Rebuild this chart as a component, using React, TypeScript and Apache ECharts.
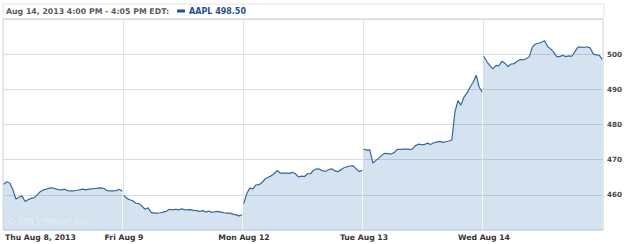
import React, { useEffect, useRef } from "react";
import * as echarts from "echarts";

const headerText = "Aug 14, 2013 4:00 PM - 4:05 PM EDT:";
const ticker = "AAPL";
const dayLabels = ["Thu Aug 8, 2013", "Fri Aug 9", "Mon Aug 12", "Tue Aug 13", "Wed Aug 14"];
const yTicks = [450, 510, 10];

// ~10-minute samples per trading day
const thu = [463.0, 463.7, 463.3, 461.5, 458.8, 459.3, 459.7, 458.1, 458.6, 459.0,
  459.2, 460.0, 460.9, 461.4, 461.6, 461.9, 462.0, 461.7, 461.5, 461.4,
  461.6, 461.2, 461.1, 461.1, 461.3, 461.4, 461.6, 461.4, 461.6, 461.7,
  461.8, 461.9, 462.0, 461.8, 461.2, 461.1, 461.1, 461.2, 461.6, 461.0];
const fri = [459.9, 459.0, 458.6, 458.3, 457.6, 457.5, 456.8, 455.9, 456.3, 455.0,
  454.8, 454.8, 454.9, 455.1, 455.3, 455.9, 455.7, 455.9, 455.7, 456.0,
  455.8, 455.7, 455.8, 455.6, 455.5, 455.3, 455.5, 455.1, 455.4, 455.0,
  455.2, 455.3, 455.1, 454.9, 454.8, 454.8, 454.5, 454.3, 454.0, 454.4];
const mon = [457.5, 460.4, 461.9, 461.7, 462.8, 462.9, 463.5, 464.5, 465.0, 465.4,
  466.0, 466.9, 466.2, 466.2, 466.2, 466.1, 466.4, 466.0, 465.1, 465.3,
  465.2, 466.0, 466.0, 467.0, 467.4, 467.3, 466.8, 466.7, 467.2, 467.4,
  466.8, 466.6, 467.1, 467.7, 468.0, 468.2, 468.3, 467.4, 466.6, 467.0];
const tue = [473.0, 472.7, 472.8, 469.0, 469.8, 470.5, 471.3, 471.8, 471.7, 471.6,
  472.0, 472.9, 472.9, 473.0, 473.0, 472.9, 473.0, 474.0, 474.4, 474.3,
  474.3, 474.7, 474.3, 474.8, 475.0, 475.2, 474.9, 475.1, 475.3, 475.6,
  483.5, 486.8, 485.5, 487.8, 489.0, 490.6, 492.0, 494.0, 490.6, 489.3];
const wed = [499.4, 497.9, 496.8, 495.8, 496.8, 496.7, 498.0, 497.4, 496.5, 497.2,
  497.3, 498.0, 498.5, 498.4, 498.7, 499.3, 502.0, 502.9, 503.1, 503.4,
  503.8, 502.2, 501.5, 500.6, 499.3, 499.3, 499.7, 499.3, 499.5, 499.4,
  500.7, 502.0, 502.0, 501.9, 502.1, 501.8, 500.1, 499.8, 499.7, 498.5];
const days = [thu, fri, mon, tue, wed];

const DAY_SPAN = 79; // x units per day on the value axis

export default function App() {
  const ref = useRef<HTMLDivElement>(null);
  useEffect(() => {
    if (!ref.current) return;
    const chart = echarts.init(ref.current, null, { renderer: "svg" });
    const last = wed[wed.length - 1];
    const series = days.map((vals, d) => ({
      name: ticker,
      type: "line",
      showSymbol: false,
      symbol: "none",
      data: vals.map((v, k) => [d * DAY_SPAN + 0.5 + 2 * k, v]),
      lineStyle: { color: "#36679f", width: 1.2 },
      itemStyle: { color: "#22538f" },
      areaStyle: { color: "rgba(62,125,185,0.22)", opacity: 1 },
    }));
    chart.setOption({
      animation: false,
      textStyle: { fontFamily: "DejaVu Sans" },
      title: {
        text: headerText,
        left: 6,
        top: 7,
        padding: 0,
        textStyle: { fontSize: 7.8, fontWeight: "bold", color: "#5a5a5a", fontFamily: "DejaVu Sans" },
      },
      legend: {
        data: [ticker],
        left: 177,
        top: 7,
        padding: 0,
        icon: "rect",
        itemWidth: 8,
        itemHeight: 3,
        selectedMode: false,
        formatter: (name: string) => `${name} ${last.toFixed(2)}`,
        textStyle: { fontSize: 8, fontWeight: "bold", color: "#1f4f8e", fontFamily: "DejaVu Sans", padding: [0, 0, 0, -1] },
      },
      grid: {
        left: 3,
        right: 21,
        top: 19,
        bottom: 14,
        show: true,
        borderColor: "#d3dbe3",
        borderWidth: 1,
        backgroundColor: "transparent",
      },
      graphic: [
        {
          type: "rect",
          shape: { x: 3, y: 4, width: 601, height: 15 },
          style: { fill: "#fff", stroke: "#dfe5eb", lineWidth: 1 },
          z: -1,
          silent: true,
        },
        {
          type: "text",
          left: 7,
          top: 217,
          style: { text: "© 2013 Yahoo! Inc.", fill: "#e6eef6", font: "8.6px 'DejaVu Sans'" },
          z: 100,
          silent: true,
        },
      ],
      xAxis: {
        type: "value",
        min: 0,
        max: DAY_SPAN * days.length,
        interval: DAY_SPAN,
        axisLine: { show: false },
        axisTick: { show: false },
        splitLine: { show: true, lineStyle: { color: "#dde4ea", width: 1 } },
        axisLabel: {
          margin: 3,
          fontSize: 7.7,
          fontWeight: "bold",
          color: "#333",
          fontFamily: "DejaVu Sans",
          showMaxLabel: false,
          alignMinLabel: "left",
          padding: [0, 0, 0, 2],
          formatter: (v: number) => dayLabels[Math.round(v / DAY_SPAN)] ?? "",
        },
      },
      yAxis: {
        type: "value",
        position: "right",
        min: yTicks[0],
        max: yTicks[1],
        interval: yTicks[2],
        axisLine: { show: false },
        axisTick: { show: false },
        splitLine: { show: true, lineStyle: { color: "#d4dee8", width: 1 } },
        axisLabel: {
          margin: 4,
          fontSize: 7.2,
          fontWeight: "bold",
          color: "#4a4a4a",
          fontFamily: "DejaVu Sans",
          showMinLabel: false,
          showMaxLabel: false,
        },
      },
      series,
    });
    return () => chart.dispose();
  }, []);
  return (
    <div
      ref={ref}
      style={{ position: "absolute", left: 0, top: 0, width: 625, height: 244, background: "#fff" }}
    />
  );
}
